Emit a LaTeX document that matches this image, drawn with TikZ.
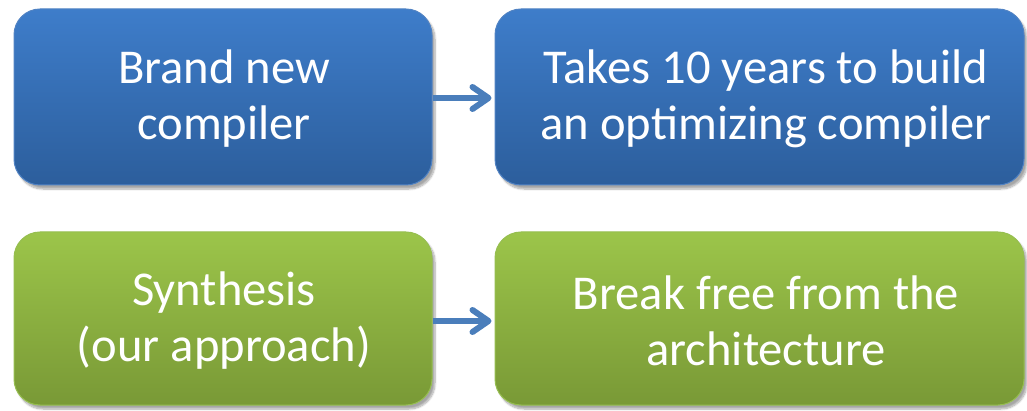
\documentclass[tikz,border=0pt]{standalone}
\usepackage{fontspec}
\setmainfont{Carlito}
\usetikzlibrary{arrows.meta,shadows.blur}

\definecolor{bluetop}{RGB}{62,125,202}
\definecolor{bluebot}{RGB}{44,94,156}
\definecolor{blueedge}{RGB}{80,130,195}
\definecolor{greentop}{RGB}{156,197,74}
\definecolor{greenbot}{RGB}{121,153,54}
\definecolor{greenedge}{RGB}{150,190,80}
\definecolor{arrowblue}{RGB}{74,126,187}

\tikzset{
  card/.style={rounded corners=26pt, minimum height=176pt, inner sep=0pt,
    line width=1pt,
    blur shadow={shadow xshift=3pt, shadow yshift=-4pt, shadow blur steps=8,
                 shadow opacity=35, shadow blur extra rounding=4pt}},
  bluecard/.style={card, draw=blueedge, top color=bluetop, bottom color=bluebot},
  greencard/.style={card, draw=greenedge, top color=greentop, bottom color=greenbot},
  cardtext/.style={text=white, align=center, font=\fontsize{48.6}{56}\selectfont,
    inner sep=0pt},
  link/.style={draw=arrowblue, line width=6pt,
    -{Straight Barb[length=16pt, width=22pt, line cap=round, line join=round]}},
}

\begin{document}
\begin{tikzpicture}[x=1pt, y=-1pt]
  \useasboundingbox (0,0) rectangle (1027,411);

  % blue row
  \node[bluecard, minimum width=418pt] (compiler) at (223,97) {};
  \node[bluecard, minimum width=529pt] (tenyears) at (759.5,97) {};
  \node[cardtext] (compilerT) at (224,99) {Brand new\\compiler};
  \node[cardtext] (tenyearsT) at (766,99) {Takes 10 years to build\\an optimizing compiler};

  % green row
  \node[greencard, minimum width=418pt, minimum height=173pt] (synth) at (223,318.5) {};
  \node[greencard, minimum width=529pt, minimum height=173pt] (free) at (759.5,318.5) {};
  \node[cardtext] (synthT) at (224,320.5) {Synthesis\\(our approach)};
  \node[cardtext] (freeT) at (766,320.5) {Break free from the\\architecture};

  % connectors
  \draw[link] ([yshift=-1pt]compiler.east) -- ([xshift=-3pt,yshift=-1pt]tenyears.west);
  \draw[link] ([yshift=-2.5pt]synth.east) -- ([xshift=-3pt,yshift=-2.5pt]free.west);
\end{tikzpicture}
\end{document}
